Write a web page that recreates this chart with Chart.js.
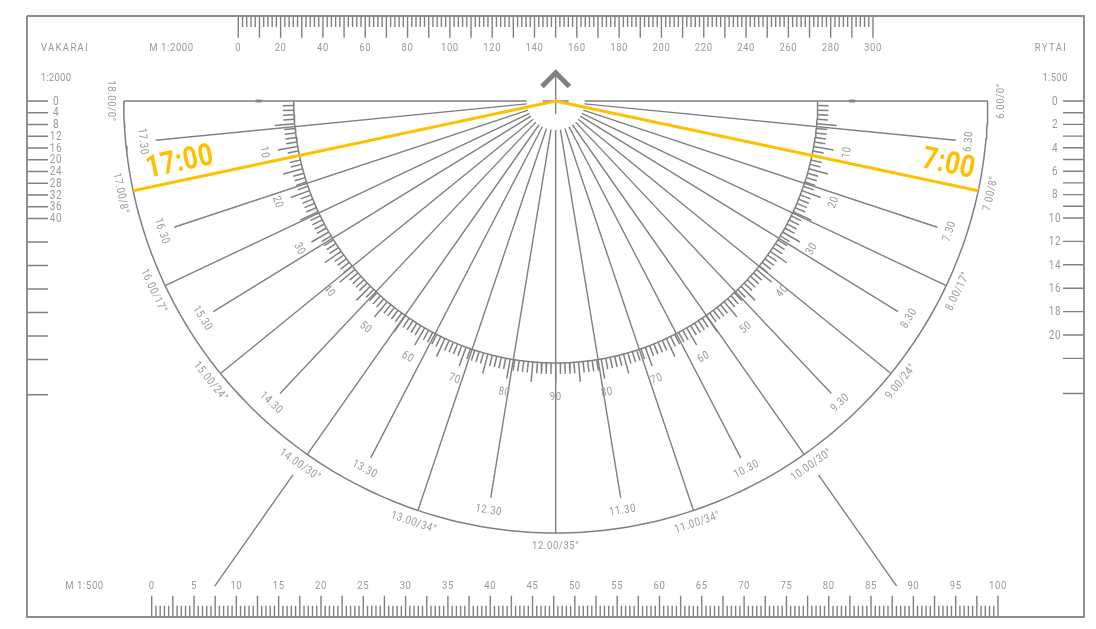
<!DOCTYPE html>
<html>
<head>
<meta charset="utf-8">
<title>Saulės laikrodis</title>
<script src="https://cdn.jsdelivr.net/npm/chart.js@4/dist/chart.umd.min.js"></script>
<style>
  html, body { margin: 0; padding: 0; background: #fff; }
  #wrap { width: 1096px; height: 629px; }
</style>
</head>
<body>
<div id="wrap"><canvas id="plate"></canvas></div>
<script>
// — data read off the picture —
// hour lines: angle from the 12.00 line, degrees
const hourAngles      = [0, 18.6, 35.1, 50.9, 64.7, 78, 90];
const afternoonHours  = ['12.00/35°', '13.00/34°', '14.00/30°', '15.00/24°', '16.00/17°', '17.00/8°', '18.00/0°'];
const morningHours    = ['12.00/35°', '11.00/34°', '10.00/30°', '9.00/24°', '8.00/17°', '7.00/8°', '6.00/0°'];
const halfAngles      = [9.3, 27.4, 43.3, 58.4, 71.7, 84.4];
const afternoonHalves = ['12.30', '13.30', '14.30', '15.30', '16.30', '17.30'];
const morningHalves   = ['11.30', '10.30', '9.30', '8.30', '7.30', '6.30'];
const goldenAngle     = 78;
const pointerAngle    = 35.1;

// protractor ring, degrees
const ringLabels = [10, 20, 30, 40, 50, 60, 70, 80, 90];

// rulers
const topLabels    = [0, 20, 40, 60, 80, 100, 120, 140, 160, 180, 200, 220, 240, 260, 280, 300];
const bottomLabels = [0, 5, 10, 15, 20, 25, 30, 35, 40, 45, 50, 55, 60, 65, 70, 75, 80, 85, 90, 95, 100];
const leftTicks    = [0, 4, 8, 12, 16, 20, 24, 28, 32, 36, 40, 48, 56, 64, 72, 80, 88, 100];
const leftLabels   = [0, 4, 8, 12, 16, 20, 24, 28, 32, 36, 40];
const rightTicks   = [0, 1, 2, 3, 4, 5, 6, 7, 8, 9, 10, 12, 14, 16, 18, 20, 22, 25];
const rightLabels  = [0, 2, 4, 6, 8, 10, 12, 14, 16, 18, 20];

// — look —
const GREY = '#808080', FRAME = '#8c8c8c', TEXT = '#999999', GOLD = '#FFC000';
const FONT = 'Roboto, sans-serif';
const NARROW = 0.83;                 // the print uses a narrow face
const W = 1096, H = 629;
const CX = 555.7, CY = 101;          // centre of the plate in the page
const R_OUT = 432, R_HALF = 402, R_RING = 262, R_HUB = 29;

const range = (from, to, step) => {
  const out = [];
  for (let v = from; v <= to + 1e-9; v += step) out.push(v);
  return out;
};

// plate axes run in pixels around the centre, y upwards. theta: 0 = down, + = right
const polar = (theta, r) => {
  const t = theta * Math.PI / 180;
  return { x: r * Math.sin(t), y: -r * Math.cos(t) };
};
const segments = pairs => pairs.flatMap(p => [p[0], p[1], { x: null, y: null }]);
const spoke = (theta, r0, r1) => [polar(theta, r0), polar(theta, r1)];

const line = (data, color, width, extra = {}) => ({
  data, borderColor: color, borderWidth: width, showLine: true, pointRadius: 0,
  fill: false, tension: 0, xAxisID: 'x', yAxisID: 'y', ...extra,
});

// — marks —
const hourSpokes = hourAngles.flatMap(a => (a === 0 || a === 90)
  ? (a === 0 ? [spoke(0, R_HUB, R_OUT)] : [])
  : [spoke(a, R_HUB, R_OUT), spoke(-a, R_HUB, R_OUT)]);
const halfSpokes = halfAngles.flatMap(a => [spoke(a, R_HUB, R_HALF), spoke(-a, R_HUB, R_HALF)]);
const ringTicks  = range(1, 179, 1).map(d => spoke(d - 90, R_RING, d % 5 === 0 ? R_RING + 20 : R_RING + 11));

const topY = 101 - 16, topMinor = 101 - 27, topMajor = 101 - 37.7;
const botY = 101 - 617, botMinor = 101 - 605.7, botMajor = 101 - 595.7;
const topTicks = range(0, 300, 2).map(v => [{ x: v, y: topY }, { x: v, y: v % 10 === 0 ? topMajor : topMinor }]);
const botTicks = range(0, 100, 0.5).map(v => [{ x: v, y: botY }, { x: v, y: v % 2.5 === 0 ? botMajor : botMinor }]);

// Chart.js paints the first dataset last, so the top layer comes first here
const datasets = [
  // the golden hours
  line([polar(-goldenAngle, R_OUT), { x: 0, y: 0 }, polar(goldenAngle, R_OUT)], GOLD, 3, { borderJoinStyle: 'miter' }),
  line([{ x: 27 - CX, y: topY }, { x: 1084 - CX, y: topY }, { x: 1084 - CX, y: botY }, { x: 27 - CX, y: botY }, { x: 27 - CX, y: topY }], FRAME, 1.9),
  line(range(-90, 90, 1).map(d => polar(d, R_OUT)), GREY, 1.5),
  line(range(-90, 90, 1).map(d => polar(d, R_RING)), GREY, 1.5),
  line(segments([
    [{ x: -R_OUT, y: 0 }, { x: -R_HUB, y: 0 }],
    [{ x: -13, y: 0 }, { x: 13, y: 0 }],
    [{ x: R_HUB, y: 0 }, { x: R_OUT, y: 0 }],
  ]), GREY, 1.5),
  line(segments(ringTicks), GREY, 1.5),
  line(segments(hourSpokes), GREY, 1.4),
  line(segments(halfSpokes), GREY, 1.4),
  line(segments([spoke(pointerAngle, 457, 593), spoke(-pointerAngle, 457, 593)]), GREY, 1.4),
  // pills on the top edge
  line(segments([
    [{ x: -299, y: 0 }, { x: -295, y: 0 }],
    [{ x: 294.5, y: 0 }, { x: 298.5, y: 0 }],
  ]), FRAME, 3, { borderCapStyle: 'round' }),
  // north arrow
  line([{ x: 0, y: 29 }, { x: 0, y: -13 }], GREY, 1.4),
  line([{ x: -13.7, y: 14.5 }, { x: 0, y: 28.2 }, { x: 13.7, y: 14.5 }], GREY, 5, { borderJoinStyle: 'miter' }),
  // rulers on the frame
  line(segments(topTicks), GREY, 1.4, { xAxisID: 'xTop' }),
  line(segments(botTicks), GREY, 1.4, { xAxisID: 'xBottom' }),
  line(segments(leftTicks.map(v => [{ x: 27 - CX, y: v }, { x: 48 - CX, y: v }])), GREY, 1.4, { yAxisID: 'yLeft' }),
  line(segments(rightTicks.map(v => [{ x: 1063 - CX, y: v }, { x: 1084 - CX, y: v }])), GREY, 1.4, { yAxisID: 'yRight' }),
];

// — texts —
const labelsPlugin = {
  id: 'plateLabels',
  afterDatasetsDraw(chart) {
    const { ctx, scales } = chart;
    const px = v => scales.x.getPixelForValue(v);
    const py = v => scales.y.getPixelForValue(v);

    const put = (text, x, y, rot = 0, size = 11.5, color = TEXT, weight = 'normal', spacing = '0.7px') => {
      ctx.save();
      ctx.translate(x, y);
      ctx.rotate(rot * Math.PI / 180);
      ctx.scale(NARROW, 1);
      ctx.font = `${weight} ${size}px ${FONT}`;
      ctx.letterSpacing = spacing;
      ctx.fillStyle = color;
      ctx.textAlign = 'center';
      ctx.textBaseline = 'middle';
      ctx.fillText(text, 0, 0);
      ctx.restore();
    };
    const putPolar = (text, theta, r, size) => {
      const p = polar(theta, r);
      put(text, px(p.x), py(p.y), -theta, size);
    };

    hourAngles.forEach((a, i) => {
      if (a !== 0) putPolar(morningHours[i], a, 445);
      putPolar(afternoonHours[i], -a, 445);
    });
    halfAngles.forEach((a, i) => {
      putPolar(morningHalves[i], a, 415);
      putPolar(afternoonHalves[i], -a, 415);
    });
    ringLabels.forEach(d => {
      putPolar(String(d), d - 90, 296);
      if (d !== 90) putPolar(String(d), 90 - d, 296);
    });

    topLabels.forEach(v => put(String(v), scales.xTop.getPixelForValue(v), 48.5));
    bottomLabels.forEach(v => put(String(v), scales.xBottom.getPixelForValue(v), 586.5));
    leftLabels.forEach(v => put(String(v), 56, scales.yLeft.getPixelForValue(v) + 0.7, 0, 12));
    rightLabels.forEach(v => put(String(v), 1055, scales.yRight.getPixelForValue(v) + 0.7, 0, 12));

    const wide = '1.6px';
    put('VAKARAI', 65, 48.5, 0, 11.5, TEXT, 'normal', wide);
    put('M 1:2000', 171.5, 48.5);
    put('RYTAI', 1051, 48.5, 0, 11.5, TEXT, 'normal', wide);
    put('1:2000', 56, 78.5, 0, 11.5, TEXT, 'normal', '0.3px');
    put('1:500', 1055, 78.5, 0, 11.5, TEXT, 'normal', '0.3px');
    put('M 1:500', 84.5, 586.5);

    put('17:00', 180, 163, -12, 31, GOLD, 'bold', '0.5px');
    put('7:00', 948.5, 165, 12, 31, GOLD, 'bold', '0.5px');
  },
};

// ruler scales, stretched so that their values land on the printed positions
const rulerScale = (zero, unit, size) => ({ type: 'linear', display: false, min: -zero / unit, max: (size - zero) / unit });

new Chart(document.getElementById('plate'), {
  type: 'scatter',
  data: { datasets },
  plugins: [labelsPlugin],
  options: {
    responsive: true,
    maintainAspectRatio: false,
    animation: false,
    devicePixelRatio: 1,
    layout: { padding: 0 },
    plugins: { legend: { display: false }, tooltip: { enabled: false } },
    scales: {
      x:       { type: 'linear', display: false, min: -CX, max: W - CX },
      y:       { type: 'linear', display: false, min: CY - H, max: CY },
      xTop:    rulerScale(238.3, 2.1157, W),
      xBottom: rulerScale(151.7, 8.463, W),
      yLeft:   { ...rulerScale(CY, 2.9375, H), reverse: true },
      yRight:  { ...rulerScale(CY, 11.7, H), reverse: true },
    },
  },
});
</script>
</body>
</html>
